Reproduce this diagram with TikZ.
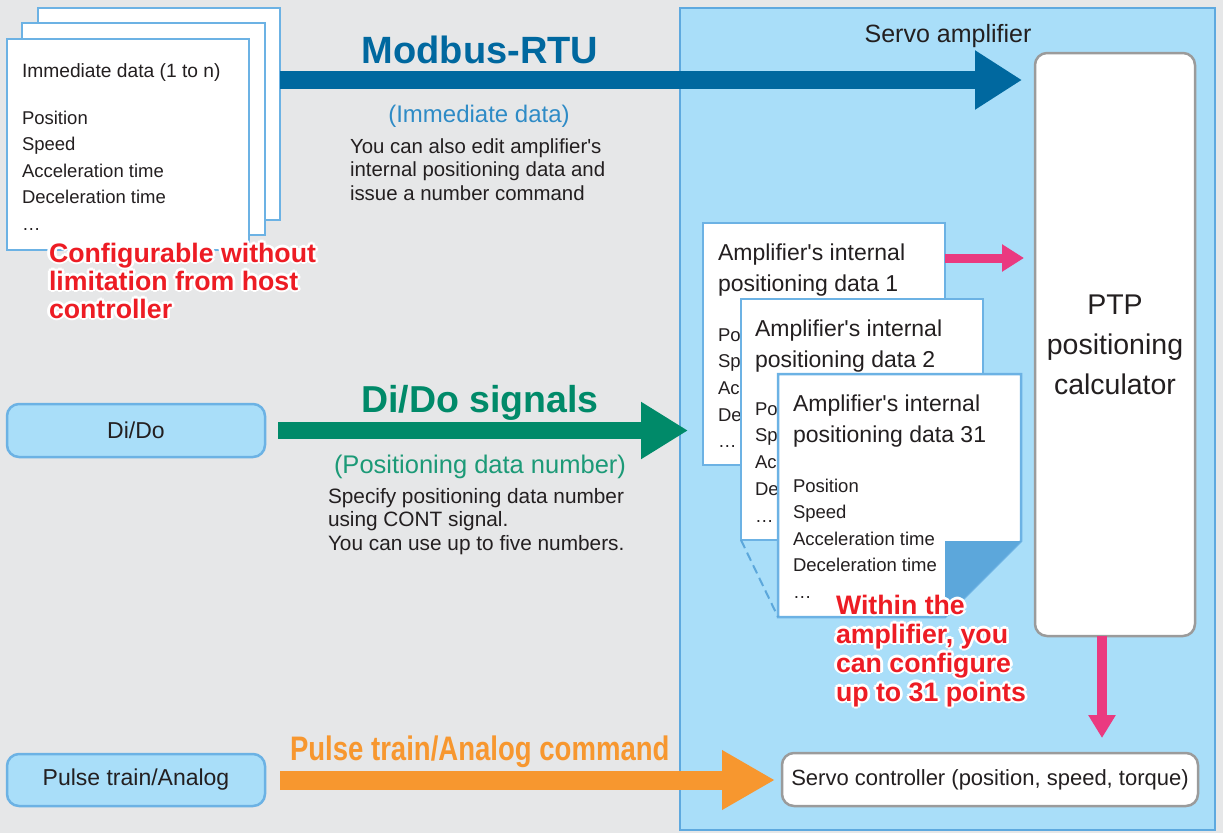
\documentclass[tikz,border=0pt]{standalone}
\usepackage{fontspec}
\newfontfamily\lib{Liberation Sans}
\usetikzlibrary{arrows.meta,calc}
\definecolor{bg}{HTML}{E6E7E8}
\definecolor{ampF}{HTML}{A9DEF9}
\definecolor{ampB}{HTML}{5EA9DF}
\definecolor{pageB}{HTML}{6CB2E4}
\definecolor{gB}{HTML}{9B9B9B}
\definecolor{txt}{HTML}{231F20}
\definecolor{mbC}{HTML}{00689F}
\definecolor{mbL}{HTML}{2E8BC6}
\definecolor{grC}{HTML}{008A69}
\definecolor{grL}{HTML}{1C9A77}
\definecolor{orC}{HTML}{F7972F}
\definecolor{pkC}{HTML}{EA3A80}
\definecolor{rdC}{HTML}{ED1C24}
\definecolor{foldC}{HTML}{5CA7DB}
\newcommand\fsz[1]{\lib\fontsize{#1}{#1}\selectfont}
\begin{document}
\begin{tikzpicture}[x=1pt,y=-1pt,
  every node/.style={inner sep=0pt,outer sep=0pt,text=txt},
  pagebox/.style={draw=pageB,fill=white,line width=2.5pt,anchor=north west},
  roundbox/.style={draw=gB,fill=white,line width=2.5pt,rounded corners=12pt,anchor=north west},
  srcbox/.style={draw=pageB,fill=ampF,line width=2.5pt,rounded corners=12pt,anchor=north west,font=\fsz{23}},
  ln/.style={anchor=base west},
  redtxt/.style={anchor=base west,font=\fsz{26.7}\bfseries,text=rdC},
  halo/.style={anchor=base west,font=\fsz{26.7}\bfseries,text=white}
]
\useasboundingbox (0,0) rectangle (1223,833);
\fill[bg] (0,0) rectangle (1223,833);

% servo amplifier container
\node[draw=ampB,fill=ampF,line width=2pt,minimum width=535pt,minimum height=822pt,anchor=north west] (amp) at (680,8) {};
\node[anchor=base,font=\fsz{25}] (amplabel) at (948,42) {Servo amplifier};

% PTP calculator
\node[roundbox,minimum width=160pt,minimum height=583pt] (ptp) at (1035,53) {};
\node[anchor=base,font=\fsz{28.5}] (ptp1) at (1115,314) {PTP};
\node[anchor=base,font=\fsz{28.5}] (ptp2) at (1115,354) {positioning};
\node[anchor=base,font=\fsz{28.5}] (ptp3) at (1115,394) {calculator};

% servo controller
\node[roundbox,minimum width=416pt,minimum height=53pt,font=\fsz{22}] (servo) at (782,753) {Servo controller (position, speed, torque)};

% immediate data pages
\node[pagebox,minimum width=242pt,minimum height=212pt] (imm3) at (38,8) {};
\node[pagebox,minimum width=243pt,minimum height=212pt] (imm2) at (22,23) {};
\node[pagebox,minimum width=242pt,minimum height=211pt] (imm1) at (7,39) {};
\node[ln,font=\fsz{19.2}] (immt) at (22,77) {Immediate data (1 to n)};
\foreach \t [count=\i] in {Position,Speed,Acceleration time,Deceleration time,\dots}
  \node[ln,font=\fsz{18.5}] (imml\i) at (22,{124+26.6*(\i-1)}) {\t};

% source boxes
\node[srcbox,minimum width=258pt,minimum height=53pt] (dido) at (7,404) {Di/Do};
\node[srcbox,minimum width=258pt,minimum height=52pt] (pulse) at (7,754) {Pulse train/Analog};

% internal positioning data pages
\node[pagebox,minimum width=242pt,minimum height=242pt] (p1) at (703,223) {};
\node[ln,font=\fsz{23}] (p1t1) at (718,260) {Amplifier\textquotesingle s internal};
\node[ln,font=\fsz{23}] (p1t2) at (718,291) {positioning data 1};
\foreach \t [count=\i] in {Position,Speed,Acceleration time,Deceleration time,\dots}
  \node[ln,font=\fsz{18.5}] (p1l\i) at (718,{341+26.7*(\i-1)}) {\t};

\node[pagebox,minimum width=242pt,minimum height=241pt] (p2) at (741,299) {};
\node[ln,font=\fsz{23}] (p2t1) at (755,336) {Amplifier\textquotesingle s internal};
\node[ln,font=\fsz{23}] (p2t2) at (755,367) {positioning data 2};
\foreach \t [count=\i] in {Position,Speed,Acceleration time,Deceleration time,\dots}
  \node[ln,font=\fsz{18.5}] (p2l\i) at (755,{415+26.9*(\i-1)}) {\t};

\coordinate (p31sw) at (778,617);
\filldraw[draw=pageB,fill=white,line width=2.5pt] (778,374) -- (1021,374) -- (1021,541) -- (945,617) -- (p31sw) -- cycle;
\fill[foldC] (945,541) -- (1021,541) -- (945,617) -- cycle;
\node[ln,font=\fsz{23}] (p31t1) at (793,411) {Amplifier\textquotesingle s internal};
\node[ln,font=\fsz{23}] (p31t2) at (793,442) {positioning data 31};
\foreach \t [count=\i] in {Position,Speed,Acceleration time,Deceleration time,\dots}
  \node[ln,font=\fsz{18.5}] (p31l\i) at (793,{492+26.6*(\i-1)}) {\t};
\draw[foldC,line width=2pt,dash pattern=on 9pt off 5pt] (p2.south west) -- (p31sw);

% arrows
\coordinate (mb) at (0,80);
\draw[mbC,line width=18pt,-{Triangle[length=47pt,width=56pt]},shorten >=13pt] (imm3.east |- mb) -- (ptp.west |- mb);
\draw[grC,line width=17pt,-{Triangle[length=47pt,width=54pt]},shorten <=13pt,shorten >=15pt] (dido.east) -- (dido.east -| p1.west);
\draw[orC,line width=19pt,-{Triangle[length=53pt,width=56pt]},shorten <=15pt,shorten >=7pt] (pulse.east) -- (pulse.east -| servo.west);
\coordinate (pk) at (0,258);
\draw[pkC,line width=9pt,-{Triangle[length=22pt,width=26pt]},shorten >=11pt] (p1.east |- pk) -- (ptp.west |- pk);
\coordinate (pkd) at (1102,0);
\draw[pkC,line width=10pt,-{Triangle[length=23pt,width=26pt]},shorten >=15pt] (ptp.south -| pkd) -- (servo.north -| pkd);

% arrow labels
\node[anchor=base,font=\fsz{38}\bfseries,text=mbC] (mbt) at (480,63) {Modbus-RTU};
\node[anchor=base,font=\fsz{24},text=mbL] (mbs) at (479,122) {(Immediate data)};
\foreach \t [count=\i] in {You can also edit amplifier\textquotesingle s,internal positioning data and,issue a number command}
  \node[ln,font=\fsz{20.4}] (mbl\i) at (350,{153+23.5*(\i-1)}) {\t};

\node[anchor=base,font=\fsz{37.5}\bfseries,text=grC] (grt) at (480,412) {Di/Do signals};
\node[anchor=base,font=\fsz{25.5},text=grL] (grs) at (480,473) {(Positioning data number)};
\foreach \t [count=\i] in {Specify positioning data number,using CONT signal.,You can use up to five numbers.}
  \node[ln,font=\fsz{20.8}] (grl\i) at (328,{503+23.7*(\i-1)}) {\t};

\node[ln,font=\fsz{34}\bfseries,text=orC] (ort) at (290,760) {\scalebox{0.81}[1]{Pulse train/Analog command}};

% red notes with white outline
\foreach \t [count=\i] in {Configurable without,limitation from host,controller}{
  \foreach \a in {0,45,...,315}
    \node[halo] at ($(49,{262+28*(\i-1)})+(\a:2.8)$) {\t};
}
\foreach \t [count=\i] in {Within the,{amplifier, you},can configure,up to 31 points}{
  \foreach \a in {0,45,...,315}
    \node[halo] at ($(836,{614+29*(\i-1)})+(\a:2.8)$) {\t};
}
\foreach \t [count=\i] in {Configurable without,limitation from host,controller}
  \node[redtxt] (rA\i) at (49,{262+28*(\i-1)}) {\t};
\foreach \t [count=\i] in {Within the,{amplifier, you},can configure,up to 31 points}
  \node[redtxt] (rB\i) at (836,{614+29*(\i-1)}) {\t};
\end{tikzpicture}
\end{document}
